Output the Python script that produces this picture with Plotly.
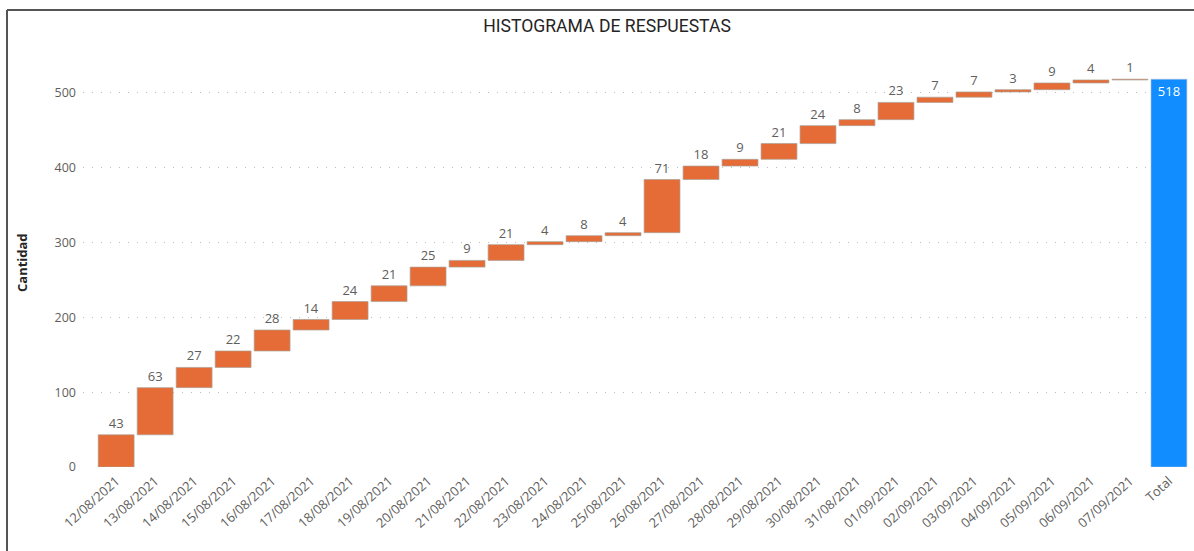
import plotly.graph_objects as go

fechas = [
    "12/08/2021", "13/08/2021", "14/08/2021", "15/08/2021", "16/08/2021",
    "17/08/2021", "18/08/2021", "19/08/2021", "20/08/2021", "21/08/2021",
    "22/08/2021", "23/08/2021", "24/08/2021", "25/08/2021", "26/08/2021",
    "27/08/2021", "28/08/2021", "29/08/2021", "30/08/2021", "31/08/2021",
    "01/09/2021", "02/09/2021", "03/09/2021", "04/09/2021", "05/09/2021",
    "06/09/2021", "07/09/2021",
]
respuestas = [43, 63, 27, 22, 28, 14, 24, 21, 25, 9, 21, 4, 8, 4, 71,
              18, 9, 21, 24, 8, 23, 7, 7, 3, 9, 4, 1]
total_label = "Total"

x_vals = fechas + [total_label]
measures = ["relative"] * len(respuestas) + ["total"]
y_vals = respuestas + [0]
textos = [str(v) for v in respuestas] + [str(sum(respuestas))]
posiciones = ["outside"] * len(respuestas) + ["inside"]

# plot area in pixels
L, R, T, B = 83, 1190, 59, 467
W, H = R - L, B - T

def px_x(p):
    return (p - L) / W

def px_y(p):
    return (B - p) / H

fuente = "Segoe UI, Open Sans, sans-serif"

fig = go.Figure(go.Waterfall(
    x=x_vals,
    y=y_vals,
    measure=measures,
    text=textos,
    textposition=posiciones,
    insidetextanchor="end",
    insidetextfont=dict(family=fuente, size=13, color="#FFFFFF"),
    outsidetextfont=dict(family=fuente, size=13, color="#605E5C"),
    increasing=dict(marker=dict(color="#E66C37", line=dict(color="rgba(170,160,150,0.7)", width=1))),
    totals=dict(marker=dict(color="#118DFF", line=dict(color="rgba(170,190,220,0.6)", width=1))),
    connector=dict(visible=False),
    cliponaxis=False,
))

fig.update_layout(
    width=1194,
    height=551,
    margin=dict(l=L, r=1194 - R, t=T, b=551 - B, autoexpand=False),
    paper_bgcolor="white",
    plot_bgcolor="white",
    showlegend=False,
    waterfallgap=0.08,
    font=dict(family=fuente, color="#605E5C"),
    title=dict(
        text="HISTOGRAMA DE RESPUESTAS",
        x=607 / 1194, xanchor="center", xref="container",
        y=1 - 26 / 551, yanchor="middle", yref="container",
        font=dict(family="Roboto, DejaVu Sans Condensed, sans-serif", size=17.6, color="#252423"),
    ),
    xaxis=dict(
        type="category",
        range=[-0.85, 27.54],
        tickangle=-42,
        tickfont=dict(size=13, color="#605E5C"),
        ticklabelstandoff=3,
        showgrid=False,
        showline=False,
        zeroline=False,
        automargin=False,
    ),
    yaxis=dict(
        range=[0, 545],
        tickvals=[0, 100, 200, 300, 400, 500],
        tickfont=dict(size=12.5, color="#605E5C"),
        showgrid=True,
        gridcolor="#BDBDBD",
        griddash="1px,8px",
        gridwidth=1,
        zeroline=False,
        ticklabelstandoff=6,
        automargin=False,
    ),
    annotations=[dict(
        text="<b>Cantidad</b>",
        x=px_x(22), xref="paper", y=0.5, yref="paper",
        xanchor="center", yanchor="middle",
        textangle=-90, showarrow=False,
        font=dict(size=13, color="#252423"),
    )],
    shapes=[
        dict(type="line", xref="paper", yref="paper",
             x0=px_x(7), x1=px_x(1194), y0=px_y(10), y1=px_y(10),
             line=dict(color="#555555", width=2)),
        dict(type="line", xref="paper", yref="paper",
             x0=px_x(7), x1=px_x(7), y0=px_y(10), y1=px_y(551),
             line=dict(color="#555555", width=2)),
    ],
)

# the page body has a default 8px margin; drop it so pixels line up
fig.write_html("out.html", config={"displayModeBar": False},
               post_script="document.body.style.margin='0';")
